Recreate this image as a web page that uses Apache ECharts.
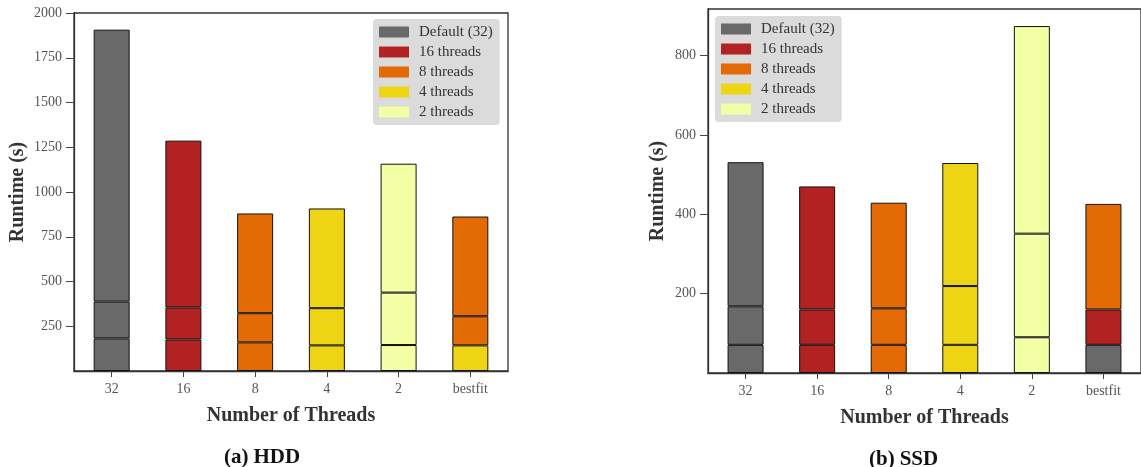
<!DOCTYPE html>
<html>
<head>
<meta charset="utf-8">
<script src="https://cdn.jsdelivr.net/npm/echarts@6/dist/echarts.min.js"></script>
<style>
html,body{margin:0;padding:0;background:#fff;}
#chart{width:1141px;height:467px;}
</style>
</head>
<body>
<div id="chart"></div>
<script>
// ---- data ----
const categories = ['32', '16', '8', '4', '2', 'bestfit'];
const legendNames = ['Default (32)', '16 threads', '8 threads', '4 threads', '2 threads'];
// HDD: three stacked phases per configuration (seconds)
const hddPhase1 = [182, 176, 160, 143, 145, 143];
const hddPhase2 = [206, 179, 163, 208, 293, 163];
const hddPhase3 = [1519, 932, 557, 557, 720, 557];
// SSD
const ssdPhase1 = [71, 71, 71, 71, 90, 71];
const ssdPhase2 = [97, 89, 92, 148, 261, 89];
const ssdPhase3 = [363, 310, 266, 310, 523, 266];
// which configuration (legend index) each bestfit phase comes from
const hddBestfitSource = [3, 2, 2];
const ssdBestfitSource = [0, 1, 2];
const hddTicks = [250, 500, 750, 1000, 1250, 1500, 1750, 2000];
const ssdTicks = [200, 400, 600, 800];

// ---- styles ----
const colors = ['#696969', '#b22222', '#e36a05', '#edd415', '#f3ffa4'];
const serif = 'Liberation Serif';

function buildSeries(c, phases, bestfitSrc) {
  const out = [];
  phases.forEach((arr, p) => {
    out.push({
      type: 'bar', stack: 's' + c, xAxisIndex: c, yAxisIndex: c, barWidth: 36,
      silent: true,
      encode: { x: 1, y: 0 },
      data: arr.map((v, i) => ({
        value: [v, i],
        itemStyle: { color: colors[i < 5 ? i : bestfitSrc[p]] }
      })),
      itemStyle: { borderColor: '#111', borderWidth: 1 }
    });
  });
  legendNames.forEach((n, k) => {
    out.push({
      name: n, type: 'bar', stack: 's' + c, xAxisIndex: c, yAxisIndex: c,
      barWidth: 36, encode: { x: 1, y: 0 }, data: [], itemStyle: { color: colors[k] }
    });
  });
  return out;
}

function xAxis(c) {
  return {
    type: 'value', gridIndex: c, min: -0.525, max: 5.525,
    name: 'Number of Threads', nameLocation: 'middle', nameGap: 35,
    nameTextStyle: { fontFamily: serif, fontWeight: 'bold', fontSize: 20, color: '#333' },
    axisLine: { show: true, onZero: false, lineStyle: { color: '#333', width: 1.3 } },
    axisTick: { show: true, length: 6, customValues: [0, 1, 2, 3, 4, 5], lineStyle: { color: '#444' } },
    axisLabel: { customValues: [0, 1, 2, 3, 4, 5], formatter: v => categories[Math.round(v)],
      fontFamily: serif, fontSize: 14, color: '#555', margin: 11 },
    splitLine: { show: false }
  };
}
function yAxis(c, max, ticks, gap) {
  return {
    type: 'value', gridIndex: c, min: 0, max: max,
    name: 'Runtime (s)', nameLocation: 'middle', nameGap: gap,
    nameTextStyle: { fontFamily: serif, fontWeight: 'bold', fontSize: 20, color: '#333' },
    axisLine: { show: true, onZero: false, lineStyle: { color: '#333', width: 1.3 } },
    axisTick: { show: true, length: 8, customValues: ticks, lineStyle: { color: '#444' } },
    axisLabel: { customValues: ticks, formatter: v => String(v),
      fontFamily: serif, fontSize: 14, color: '#555', margin: 12 },
    splitLine: { show: false }
  };
}
function legend(left, top) {
  return {
    data: legendNames, orient: 'vertical', left: left, top: top,
    icon: 'rect', itemWidth: 30, itemHeight: 11, itemGap: 0,
    padding: [3, 7, 3, 6], backgroundColor: 'rgba(217,217,217,0.95)', borderRadius: 4,
    selectedMode: false,
    textStyle: { fontFamily: serif, fontSize: 15, color: '#333', lineHeight: 20, padding: [0, 0, 0, 5] }
  };
}

const chart = echarts.init(document.getElementById('chart'));
chart.setOption({
  animation: false,
  grid: [
    { left: 74, top: 13, width: 434, height: 358, show: true, borderColor: '#333', borderWidth: 1.3 },
    { left: 708, top: 9, width: 440, height: 364, show: true, borderColor: '#333', borderWidth: 1.3 }
  ],
  xAxis: [xAxis(0), xAxis(1)],
  yAxis: [yAxis(0, 2000, hddTicks, 46), yAxis(1, 917, ssdTicks, 40)],
  legend: [legend(373, 19), legend(715, 16)],
  title: [
    { text: '{b|(a)} {r|HDD}', left: 219, top: 442,
      textStyle: { rich: { b: { fontFamily: serif, fontWeight: 'bold', fontSize: 21, color: '#111' },
                           r: { fontFamily: serif, fontSize: 21, color: '#111' } } } },
    { text: '{b|(b)} {r|SSD}', left: 864, top: 444,
      textStyle: { rich: { b: { fontFamily: serif, fontWeight: 'bold', fontSize: 21, color: '#111' },
                           r: { fontFamily: serif, fontSize: 21, color: '#111' } } } }
  ],
  series: [].concat(
    buildSeries(0, [hddPhase1, hddPhase2, hddPhase3], hddBestfitSource),
    buildSeries(1, [ssdPhase1, ssdPhase2, ssdPhase3], ssdBestfitSource)
  )
});
</script>
</body>
</html>
